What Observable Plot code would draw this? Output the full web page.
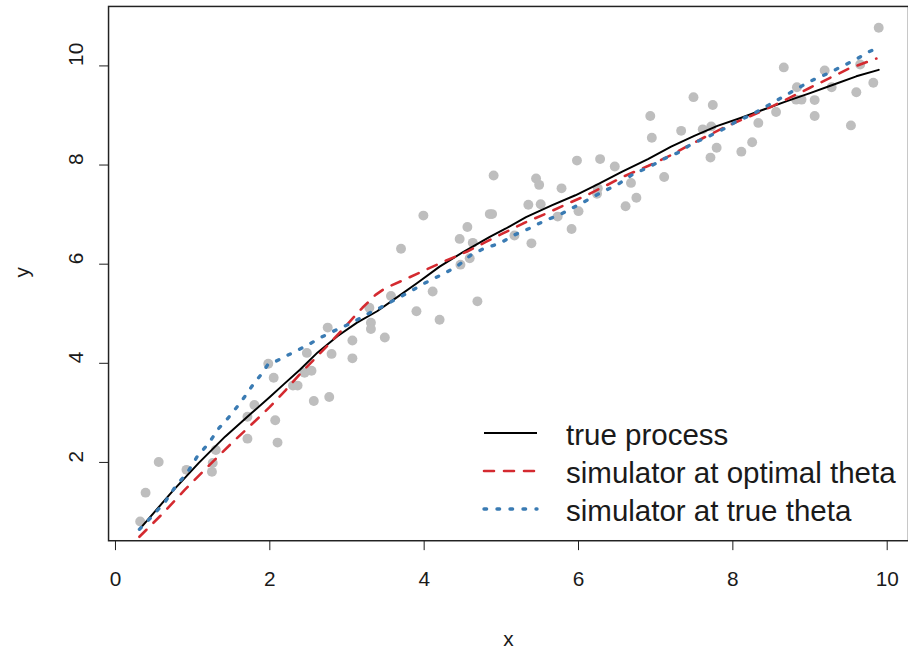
<!DOCTYPE html>
<html><head><meta charset="utf-8">
<script src="https://cdn.jsdelivr.net/npm/d3@7"></script>
<script src="https://cdn.jsdelivr.net/npm/@observablehq/plot@0.6"></script>
<style>
html,body{margin:0;padding:0;background:#fff;overflow:hidden;}
#wrap{position:relative;width:908px;height:653px;overflow:hidden;background:#fff;}
</style></head><body><div id="wrap"></div>
<script>
// ---- data ----
const xTicks = [0, 2, 4, 6, 8, 10];
const yTicks = [2, 4, 6, 8, 10];
const xLabel = "x";
const yLabel = "y";
const seriesNames = ["true process", "simulator at optimal theta", "simulator at true theta"];

const pointsX = [0.32,0.39,0.56,0.92,1.25,1.26,1.30,1.71,1.71,1.80,1.98,2.05,2.07,2.10,2.30,2.36,2.45,2.54,2.57,2.77,2.48,2.75,2.80,3.07,3.07,3.29,3.31,3.31,3.49,3.57,3.70,3.90,3.99,4.11,4.20,4.46,4.56,4.47,4.59,4.63,4.69,4.85,4.88,4.90,5.17,5.35,5.39,5.51,5.45,5.49,5.78,5.73,5.91,6.00,5.98,6.28,6.47,6.25,6.24,6.61,6.75,6.68,6.93,6.95,7.11,7.33,7.49,7.61,7.72,7.74,7.79,7.71,8.11,8.25,8.33,8.56,8.66,8.83,8.82,8.89,9.06,9.06,9.19,9.28,9.53,9.60,9.65,9.82,9.89];
const pointsY = [0.81,1.39,2.01,1.85,1.81,1.99,2.25,2.48,2.92,3.16,3.99,3.71,2.85,2.40,3.55,3.55,3.81,3.85,3.24,3.32,4.21,4.72,4.19,4.46,4.10,5.12,4.82,4.69,4.52,5.36,6.31,5.05,6.98,5.45,4.88,6.51,6.75,5.99,6.12,6.43,5.25,7.01,7.01,7.79,6.58,7.20,6.42,7.21,7.73,7.60,7.53,6.96,6.71,7.07,8.09,8.12,7.97,7.53,7.42,7.17,7.34,7.64,8.99,8.55,7.76,8.69,9.37,8.72,8.78,9.21,8.35,8.15,8.27,8.46,8.85,9.07,9.97,9.57,9.32,9.32,9.31,8.99,9.91,9.57,8.80,9.47,10.03,9.66,10.77];

const trueX = [0.35,0.74,1.08,1.42,1.76,2.00,2.19,2.39,2.62,2.88,3.13,3.39,3.61,3.91,4.20,4.51,4.85,5.06,5.32,5.66,5.96,6.26,6.56,6.90,7.20,7.50,7.80,8.10,8.40,8.70,9.00,9.30,9.60,9.89];
const trueY = [0.72,1.42,1.99,2.52,2.99,3.32,3.59,3.87,4.22,4.55,4.82,5.05,5.29,5.62,5.95,6.25,6.55,6.72,6.95,7.19,7.39,7.62,7.86,8.12,8.37,8.59,8.79,8.95,9.12,9.29,9.45,9.62,9.79,9.92];

const optX = [0.31,0.6,0.9,1.2,1.5,1.8,2.0,2.2,2.4,2.7,3.0,3.2,3.37,3.5,3.69,3.97,4.25,4.55,4.80,5.02,5.28,5.58,5.83,6.09,6.35,6.60,6.90,7.20,7.42,7.67,7.93,8.23,8.49,8.74,9.00,9.26,9.51,9.86];
const optY = [0.50,0.95,1.45,1.92,2.38,2.82,3.12,3.45,3.80,4.28,4.78,5.12,5.38,5.52,5.65,5.85,6.05,6.25,6.45,6.62,6.82,7.02,7.20,7.38,7.58,7.78,7.98,8.20,8.39,8.59,8.79,8.99,9.17,9.36,9.56,9.76,9.95,10.15];

const simX = [0.31,0.48,0.65,0.78,0.93,1.06,1.21,1.34,1.49,1.64,1.76,1.91,1.98,2.09,2.28,2.47,2.66,2.88,3.07,3.26,3.43,3.63,3.82,4.01,4.23,4.42,4.61,4.78,4.98,5.17,5.36,5.58,5.75,5.94,6.11,6.30,6.52,6.71,6.90,7.14,7.29,7.46,7.65,7.87,8.06,8.25,8.44,8.62,8.81,9.00,9.19,9.39,9.58,9.77,9.88];
const simY = [0.65,0.92,1.22,1.52,1.79,2.12,2.39,2.69,2.95,3.25,3.52,3.82,3.99,4.05,4.20,4.35,4.52,4.69,4.82,4.99,5.12,5.29,5.45,5.62,5.79,5.95,6.19,6.32,6.42,6.59,6.72,6.89,6.99,7.15,7.29,7.45,7.62,7.82,7.95,8.15,8.25,8.42,8.55,8.72,8.89,9.02,9.19,9.35,9.52,9.69,9.82,9.97,10.12,10.29,10.37];

// ---- build tables ----
const points = pointsX.map((x, i) => ({x, y: pointsY[i]}));
const trueLine = trueX.map((x, i) => ({x, y: trueY[i]}));
const optLine = optX.map((x, i) => ({x, y: optY[i]}));
const simLine = simX.map((x, i) => ({x, y: simY[i]}));

// ---- styles ----
const FONT = "'Liberation Sans', Arial, Helvetica, sans-serif";
const INK = "#1a1a1a";
const styles = [
  {stroke: "#000000", strokeWidth: 2, dash: null, cap: "round"},
  {stroke: "#d42a30", strokeWidth: 2.6, dash: "10,10", cap: "round"},
  {stroke: "#3a7bb3", strokeWidth: 3.4, dash: "2.6,10.4", cap: "round"}
];

const chart = Plot.plot({
  width: 916, height: 653,
  marginLeft: 109, marginRight: 0, marginTop: 6, marginBottom: 108,
  style: {fontFamily: FONT, fontSize: "21px", color: INK, background: "white", overflow: "visible"},
  x: {domain: [-0.0899, 10.276], ticks: xTicks, tickSize: 10, tickPadding: 21, label: null},
  y: {domain: [0.42, 11.2], ticks: yTicks, tickSize: 9, tickFormat: () => "", label: null},
  marks: [
    Plot.dot(points, {x: "x", y: "y", r: 5, fill: "#bebebe", stroke: "none"}),
    Plot.line(trueLine, {x: "x", y: "y", stroke: styles[0].stroke, strokeWidth: styles[0].strokeWidth, strokeLinejoin: "round"}),
    Plot.line(optLine, {x: "x", y: "y", stroke: styles[1].stroke, strokeWidth: styles[1].strokeWidth, strokeDasharray: styles[1].dash, strokeLinecap: "round"}),
    Plot.line(simLine, {x: "x", y: "y", stroke: styles[2].stroke, strokeWidth: styles[2].strokeWidth, strokeDasharray: styles[2].dash, strokeLinecap: "round"}),
    Plot.text(yTicks, {y: d => d, text: d => String(d), frameAnchor: "left", dx: -33, rotate: -90, fill: INK, fontSize: 21}),
    Plot.text([yLabel], {text: d => d, frameAnchor: "left", dx: -87, dy: 4, rotate: -90, fill: INK, fontSize: 21}),
    Plot.text([xLabel], {text: d => d, frameAnchor: "bottom", dy: 106, fill: INK, fontSize: 21}),
    Plot.frame({stroke: "#222", strokeWidth: 1.5})
  ]
});
chart.style.position = "absolute";
chart.style.left = "0px";
chart.style.top = "0px";
const wrap = document.getElementById("wrap");
wrap.appendChild(chart);

// ---- legend overlay ----
const leg = d3.select(wrap).append("svg")
  .attr("width", 908).attr("height", 653)
  .style("position", "absolute").style("left", "0px").style("top", "0px");
const rowY = [433, 471, 509];
seriesNames.forEach((name, i) => {
  const s = styles[i];
  leg.append("line")
    .attr("x1", 484).attr("x2", 537).attr("y1", rowY[i]).attr("y2", rowY[i])
    .attr("stroke", s.stroke).attr("stroke-width", s.strokeWidth)
    .attr("stroke-dasharray", s.dash).attr("stroke-linecap", i === 0 ? "butt" : s.cap);
  leg.append("text")
    .attr("x", 566).attr("y", rowY[i] + 12)
    .attr("font-family", FONT).attr("font-size", 29.5).attr("fill", INK)
    .text(name);
});
</script></body></html>
